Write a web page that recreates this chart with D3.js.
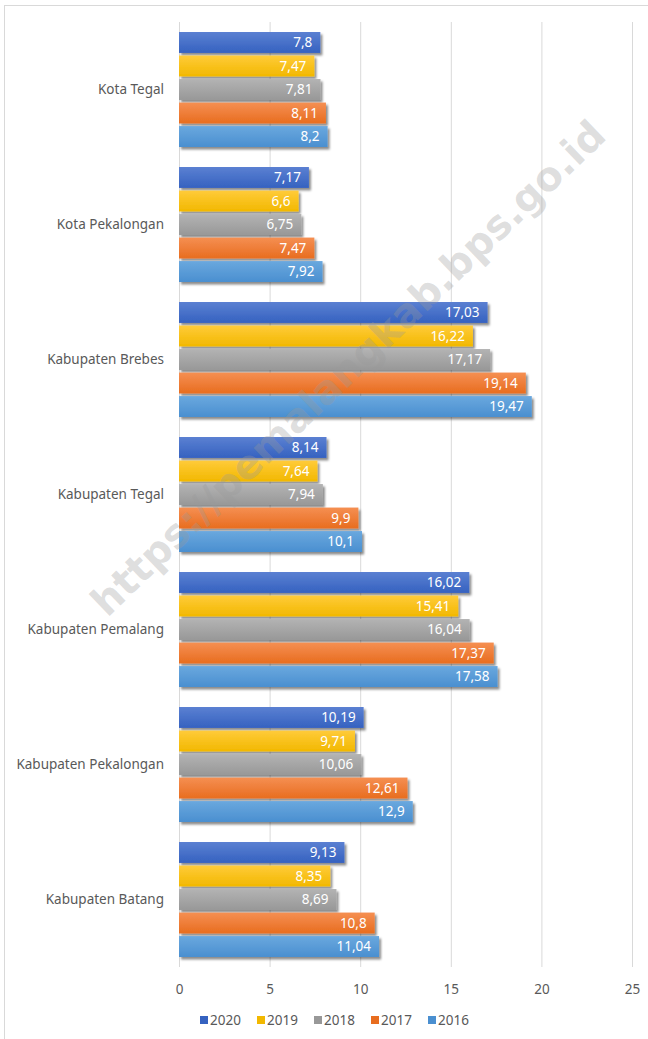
<!DOCTYPE html>
<html>
<head>
<meta charset="utf-8">
<script src="https://cdn.jsdelivr.net/npm/d3@7"></script>
<style>
  body { margin: 0; background: #fff; }
  svg text { font-family: "Noto Sans", "Lato", sans-serif; }
</style>
</head>
<body>
<svg id="chart"></svg>
<script>
const W = 648, H = 1039;

const categories = ["Kota Tegal", "Kota Pekalongan", "Kabupaten Brebes", "Kabupaten Tegal",
                    "Kabupaten Pemalang", "Kabupaten Pekalongan", "Kabupaten Batang"];
const years = ["2020", "2019", "2018", "2017", "2016"];
const v2020 = [7.8, 7.17, 17.03, 8.14, 16.02, 10.19, 9.13];
const v2019 = [7.47, 6.6, 16.22, 7.64, 15.41, 9.71, 8.35];
const v2018 = [7.81, 6.75, 17.17, 7.94, 16.04, 10.06, 8.69];
const v2017 = [8.11, 7.47, 19.14, 9.9, 17.37, 12.61, 10.8];
const v2016 = [8.2, 7.92, 19.47, 10.1, 17.58, 12.9, 11.04];
const xTicks = [0, 5, 10, 15, 20, 25];
const watermark = "https://pemalangkab.bps.go.id";

const seriesValues = { "2020": v2020, "2019": v2019, "2018": v2018, "2017": v2017, "2016": v2016 };
const colors = {
  "2020": ["#5b80d2", "#3562c0"],
  "2019": ["#ffcb3a", "#f2b800"],
  "2018": ["#b3b3b3", "#989898"],
  "2017": ["#f58f52", "#e86d1f"],
  "2016": ["#6aa8de", "#4a8fd0"]
};

const svg = d3.select("#chart").attr("width", W).attr("height", H);
const defs = svg.append("defs");

years.forEach(y => {
  const g = defs.append("linearGradient").attr("id", "g" + y)
    .attr("x1", 0).attr("y1", 0).attr("x2", 0).attr("y2", 1);
  g.append("stop").attr("offset", "0%").attr("stop-color", colors[y][0]);
  g.append("stop").attr("offset", "100%").attr("stop-color", colors[y][1]);
});

const shadow = defs.append("filter").attr("id", "shadow")
  .attr("x", "-5%").attr("y", "-20%").attr("width", "115%").attr("height", "160%");
shadow.append("feDropShadow").attr("dx", 2).attr("dy", 2.5)
  .attr("stdDeviation", 1.3).attr("flood-color", "#000").attr("flood-opacity", 0.45);

// outer frame (runs off the right and bottom edges)
svg.append("rect").attr("x", 4.5).attr("y", 5.5).attr("width", 700).attr("height", 1100)
  .attr("fill", "none").attr("stroke", "#d9d9d9");

const x = d3.scaleLinear().domain([0, 25]).range([179, 632]);
const y = d3.scaleBand().domain(categories).range([22, 967]).padding(0);
const inner = d3.scaleBand().domain(years).range([0, 115]).paddingInner(0.11).paddingOuter(0);
const groupOffset = (y.bandwidth() - 115) / 2;

// gridlines
svg.append("g").selectAll("line").data(xTicks).join("line")
  .attr("x1", d => x(d) + 0.5).attr("x2", d => x(d) + 0.5)
  .attr("y1", 22).attr("y2", 967)
  .attr("stroke", "#d9d9d9").attr("stroke-width", 1);

// x axis labels
const xAxis = svg.append("g").attr("transform", "translate(0,967)")
  .call(d3.axisBottom(x).tickValues(xTicks).tickSize(0).tickPadding(17));
xAxis.select(".domain").remove();
xAxis.selectAll("text").attr("fill", "#595959").style("font-size", "13.5px")
  .style("font-family", "'Noto Sans', sans-serif");

// category labels
svg.append("g").selectAll("text").data(categories).join("text")
  .attr("x", 164).attr("y", d => y(d) + y.bandwidth() / 2)
  .attr("text-anchor", "end").attr("dy", "0.35em")
  .attr("fill", "#595959").style("font-size", "13.5px")
  .text(d => d);

// bars
const rows = [];
categories.forEach((c, i) => years.forEach(yr => rows.push({ cat: c, year: yr, value: seriesValues[yr][i] })));

const barG = svg.append("g");
barG.selectAll("rect").data(rows).join("rect")
  .attr("x", x(0))
  .attr("y", d => y(d.cat) + groupOffset + inner(d.year))
  .attr("width", d => x(d.value) - x(0))
  .attr("height", inner.bandwidth())
  .attr("fill", d => `url(#g${d.year})`)
  .attr("filter", "url(#shadow)");

barG.selectAll("text").data(rows).join("text")
  .attr("x", d => x(d.value) - 8)
  .attr("y", d => y(d.cat) + groupOffset + inner(d.year) + inner.bandwidth() / 2)
  .attr("dy", "0.36em").attr("text-anchor", "end")
  .attr("fill", "#fff").style("font-size", "13.5px")
  .text(d => String(d.value).replace(".", ","));

// watermark
svg.append("text")
  .attr("transform", "translate(348,368) rotate(-43.8)")
  .attr("text-anchor", "middle").attr("dy", "0.35em")
  .style("font-family", "'DejaVu Sans', sans-serif")
  .style("font-weight", "bold").style("font-size", "40px")
  .attr("fill", "#9a9a9a").attr("fill-opacity", 0.32)
  .text(watermark);

// legend
const legend = svg.append("g").selectAll("g").data(years).join("g")
  .attr("transform", (d, i) => `translate(${200 + i * 57},1020)`);
legend.append("rect").attr("x", 0).attr("y", -4).attr("width", 8).attr("height", 8)
  .attr("fill", d => colors[d][1]);
legend.append("text").attr("x", 10).attr("dy", "0.35em")
  .attr("fill", "#595959").style("font-size", "13.5px").text(d => d);
</script>
</body>
</html>
